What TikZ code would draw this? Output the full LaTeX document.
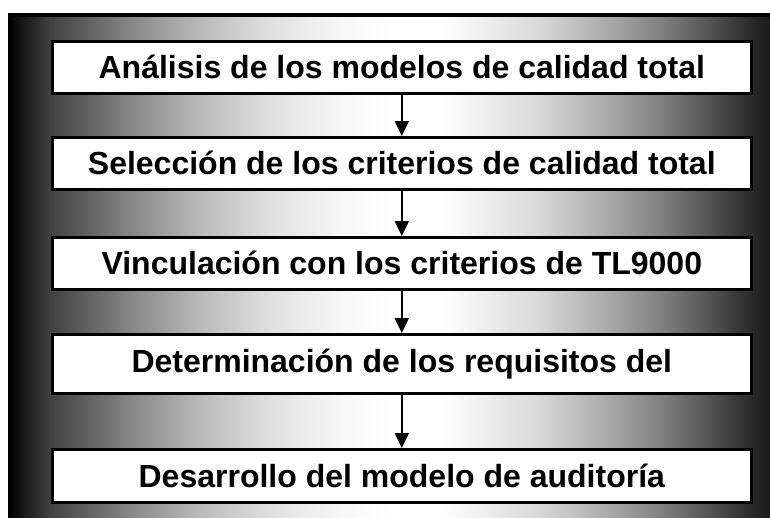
\documentclass[tikz,border=0pt]{standalone}
\usepackage{fontspec}
\setmainfont{Liberation Sans}
\usetikzlibrary{arrows.meta}
\begin{document}
\begin{tikzpicture}[x=1pt,y=-1pt,
  stepbox/.style={draw=black,line width=2.6pt,fill=white,minimum width=699pt,minimum height=52pt,inner sep=0pt,font=\fontsize{32}{36}\selectfont\bfseries,anchor=north west},
  flow/.style={line width=2pt,-{Triangle[length=15pt,width=14pt]}}]
\useasboundingbox (0,0) rectangle (770,517);
\fill[white] (0,0) rectangle (770,517);
\foreach \xa/\xb/\ga/\gb in {8/49/0/25, 49/122/25/50, 122/196/50/72, 196/270/72/88, 270/343/88/97, 343/392/97/100, 392/441/100/100, 441/539/100/85, 539/613/85/65, 613/662/65/50, 662/711/50/32, 711/755/32/15, 755/790/15/5}
  \shade[left color=white!\ga!black,right color=white!\gb!black] (\xa,13) rectangle (\xb+0.6,517);
\draw[line width=3.5pt] (9.75,520) -- (9.75,14.75) -- (775,14.75);
\node[stepbox] (a) at (51,40) {Análisis de los modelos de calidad total};
\node[stepbox] (b) at (51,136) {Selección de los criterios de calidad total};
\node[stepbox] (c) at (51,236) {Vinculación con los criterios de TL9000};
\node[stepbox,minimum height=59pt] (d) at (51,333) {Determinación de los requisitos del};
\node[stepbox,minimum height=53pt] (e) at (51,448) {Desarrollo del modelo de auditoría};
\draw[flow] (a.south) -- (b.north);
\draw[flow] (b.south) -- (c.north);
\draw[flow] (c.south) -- (d.north);
\draw[flow] (d.south) -- (e.north);
\end{tikzpicture}
\end{document}
